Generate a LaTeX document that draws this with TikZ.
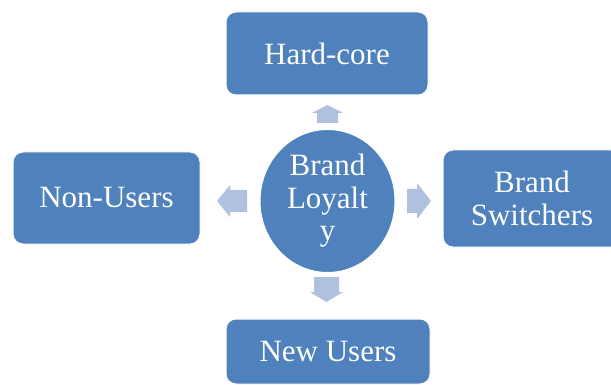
\documentclass[tikz,border=0pt]{standalone}
\usepackage{fontspec}
\setmainfont{Liberation Serif}
\usetikzlibrary{shapes.geometric}
\definecolor{boxblue}{HTML}{4F81BD}
\definecolor{arrowblue}{HTML}{AFC1DF}
\begin{document}
\begin{tikzpicture}[x=1pt,y=-1pt,
  box/.style={fill=boxblue, draw=white, line width=1pt, rounded corners=10pt,
    text=white, font=\fontsize{31}{33}\selectfont, align=center, inner sep=0pt},
  hub/.style={ellipse, fill=boxblue, draw=white, line width=1pt,
    text=white, font=\fontsize{31}{32.5}\selectfont, align=center, inner sep=0pt},
  blockarrow/.style={fill=arrowblue, draw=none}
  ]
\clip (0,0) rectangle (611,385);
\fill[white] (0,0) rectangle (611,385);
\node[box, minimum width=202pt, minimum height=83pt] (hard) at (327,53.5) {Hard-core};
\node[box, minimum width=187pt, minimum height=92pt] (non) at (106.5,198) {Non-Users};
\node[box, minimum width=178pt, minimum height=97pt] (switch) at (532,198.5) {Brand\\Switchers};
\node[box, minimum width=204pt, minimum height=65pt] (new) at (328,351.5) {New Users};
\node[hub, minimum width=135pt, minimum height=143pt] (loyal) at (327.5,201) {Brand\\Loyalt\\y};
% up arrow
\fill[blockarrow] (317,123) -- (317,113) -- (312,113) -- (327.5,105) -- (343,113)
  -- (338,113) -- (338,123) -- cycle;
% left arrow
\fill[blockarrow] (247,190) -- (230,190) -- (230,185) -- (217,201) -- (230,217)
  -- (230,212) -- (247,212) -- cycle;
% right arrow
\fill[blockarrow] (407,189) -- (417,189) -- (417,183) -- (431,201) -- (417,219)
  -- (417,213) -- (407,213) -- cycle;
% down arrow
\fill[blockarrow] (314,277) -- (314,292) -- (310,292) -- (326.5,302) -- (343,292)
  -- (339,292) -- (339,277) -- cycle;
\end{tikzpicture}
\end{document}
